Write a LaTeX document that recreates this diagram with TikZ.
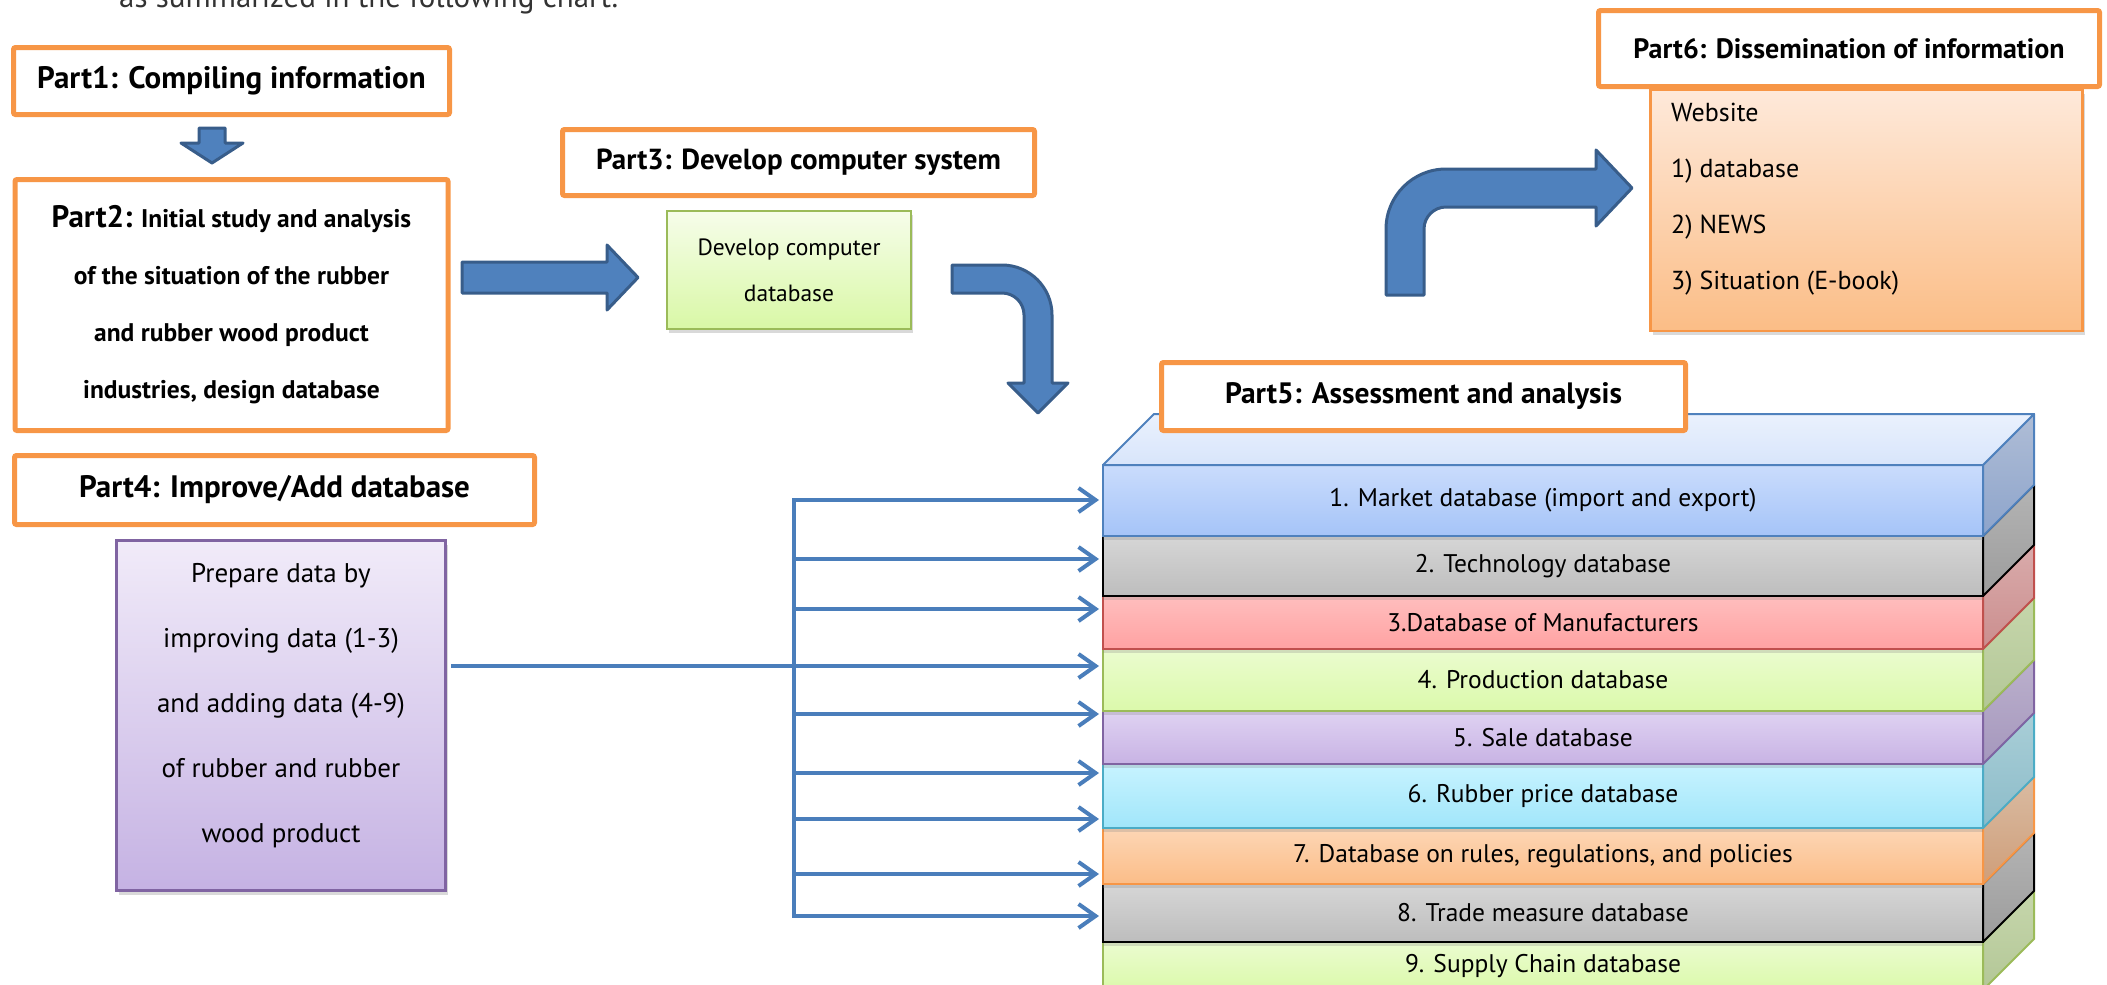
\documentclass[tikz,border=0pt]{standalone}
\usepackage{fontspec}
\setmainfont{PT Sans}
\usepackage{tikz}
\usetikzlibrary{positioning, arrows.meta, shadows}

\newcommand{\setfs}[2]{\fontsize{#1}{#2}\selectfont}

\definecolor{partorange}{HTML}{F79646}
\definecolor{arrowfill}{HTML}{4F81BD}
\definecolor{arrowline}{HTML}{385D8A}
\definecolor{feedblue}{HTML}{4A7EBB}
\definecolor{devtop}{HTML}{F6FDEA}
\definecolor{devbot}{HTML}{D9F8A6}
\definecolor{devline}{HTML}{9BBB59}
\definecolor{preptop}{HTML}{F1EBF9}
\definecolor{prepbot}{HTML}{C5B2E3}
\definecolor{prepline}{HTML}{8064A2}
\definecolor{webtop}{HTML}{FEE9DA}
\definecolor{webbot}{HTML}{FBBD86}
% stack layers: front top/bottom, side top/bottom, border
\definecolor{dbtop1}{HTML}{CADCFC}\definecolor{dbbot1}{HTML}{A5C4F8}
\definecolor{dbsa1}{HTML}{AFBDD6}\definecolor{dbsb1}{HTML}{8DA4CB}
\definecolor{dbline1}{HTML}{4F81BD}
\definecolor{dbtop2}{HTML}{D6D6D6}\definecolor{dbbot2}{HTML}{BDBDBD}
\definecolor{dbsa2}{HTML}{B4B4B4}\definecolor{dbsb2}{HTML}{9C9C9C}
\definecolor{dbline2}{HTML}{000000}
\definecolor{dbtop3}{HTML}{FFBEBE}\definecolor{dbbot3}{HTML}{FFA2A2}
\definecolor{dbsa3}{HTML}{D9ABAB}\definecolor{dbsb3}{HTML}{CB8E8E}
\definecolor{dbline3}{HTML}{C0504D}
\definecolor{dbtop4}{HTML}{EBFCCF}\definecolor{dbbot4}{HTML}{DBF9AB}
\definecolor{dbsa4}{HTML}{C6D6AB}\definecolor{dbsb4}{HTML}{B3C797}
\definecolor{dbline4}{HTML}{9BBB59}
\definecolor{dbtop5}{HTML}{DFD2F2}\definecolor{dbbot5}{HTML}{C8B3E4}
\definecolor{dbsa5}{HTML}{BBB0CC}\definecolor{dbsb5}{HTML}{A597BD}
\definecolor{dbline5}{HTML}{8064A2}
\definecolor{dbtop6}{HTML}{C7F3FF}\definecolor{dbbot6}{HTML}{A1E6FA}
\definecolor{dbsa6}{HTML}{A9CED7}\definecolor{dbsb6}{HTML}{8CBCC9}
\definecolor{dbline6}{HTML}{4BACC6}
\definecolor{dbtop7}{HTML}{FDD6B5}\definecolor{dbbot7}{HTML}{FBBD88}
\definecolor{dbsa7}{HTML}{D9BBA2}\definecolor{dbsb7}{HTML}{CF9E79}
\definecolor{dbline7}{HTML}{F79646}
\colorlet{dbtop8}{dbtop2}\colorlet{dbbot8}{dbbot2}
\colorlet{dbsa8}{dbsa2}\colorlet{dbsb8}{dbsb2}\colorlet{dbline8}{dbline2}
\colorlet{dbtop9}{dbtop4}\colorlet{dbbot9}{dbbot4}
\colorlet{dbsa9}{dbsa4}\colorlet{dbsb9}{dbsb4}\colorlet{dbline9}{dbline4}
\definecolor{capa}{HTML}{EAF1FD}
\definecolor{capb}{HTML}{D8E5FB}

\tikzset{
  partbox/.style={draw=partorange, line width=5pt, fill=white, rounded corners=2pt,
    inner sep=0pt, align=center, font=\setfs{31}{37}\bfseries},
  softshadow/.style={drop shadow={shadow xshift=2pt, shadow yshift=-4pt, opacity=.3}},
  devbox/.style={draw=devline, line width=2pt, top color=devtop, bottom color=devbot,
    minimum width=244pt, minimum height=118pt, inner sep=0pt, align=center,
    font=\setfs{23.5}{46}, softshadow},
  prepbox/.style={draw=prepline, line width=2.5pt, top color=preptop, bottom color=prepbot,
    minimum width=329pt, minimum height=350pt, inner sep=0pt, softshadow},
  webbox/.style={draw=partorange, line width=2.5pt, top color=webtop, bottom color=webbot,
    minimum width=432pt, minimum height=241pt, inner sep=0pt, softshadow},
  dblayer/.style={line width=2pt, minimum width=880pt, inner sep=0pt, outer sep=0pt,
    font=\setfs{25.5}{30},
    drop shadow={shadow xshift=0pt, shadow yshift=-4pt, opacity=.25}},
  blockarrow/.style={fill=arrowfill, draw=arrowline, line width=3pt, line join=round},
  feed/.style={draw=feedblue, line width=4pt},
  feedtip/.style={feed, -{Straight Barb[length=17pt, width=24pt]}}
}

\begin{document}
\begin{tikzpicture}[x=1pt, y=-1pt]
\path[use as bounding box, clip] (0,0) rectangle (2107,985);

\node[anchor=base west, inner sep=0pt, font=\setfs{31}{36}, text=black!80] (lead)
  at (119,7) {as summarized in the following chart.};

% left column
\node[partbox, minimum width=436pt, minimum height=67pt] (part1) at (231.5,81)
  {Part1: Compiling information};
\node[partbox, minimum width=433pt, minimum height=251pt, below=60pt of part1,
  font=\setfs{25.5}{57}\bfseries] (part2)
  {{\setfs{31}{57}Part2:} Initial study and analysis\\
   of the situation of the rubber\\
   and rubber wood product\\
   industries, design database};
\node[partbox, minimum width=520pt, minimum height=69pt] (part4) at (274.5,490)
  {Part4: Improve/Add database};
\node[prepbox] (prep) at (281,715.5) {};
\node[align=center, font=\setfs{27}{65}] (preptext) at (prep.center |- 0,706)
  {Prepare data by\\improving data (1-3)\\and adding data (4-9)\\of rubber and rubber\\wood product};

% middle
\node[partbox, minimum width=472pt, minimum height=66pt, font=\setfs{29}{35}\bfseries]
  (part3) at (798.5,162.5) {Part3: Develop computer system};
\node[devbox] (dev) at (789,270) {Develop computer\\database};

% block arrows
\path[blockarrow] (199,128) -- (225,128) -- (225,143) -- (243,143) -- (212,163)
  -- (181,143) -- (199,143) -- cycle;
\path[blockarrow] (462,262) -- (607,262) -- (607,245) -- (638,277.5) -- (607,310)
  -- (607,293) -- (462,293) -- cycle;
\path[blockarrow] (952,265) -- (1002,265) .. controls (1029.6,265) and (1052,287.4) .. (1052,315)
  -- (1052,383) -- (1068,383) -- (1038,413) -- (1008,383) -- (1024,383) -- (1024,315)
  .. controls (1024,302.8) and (1014.2,293) .. (1002,293) -- (952,293) -- cycle;
\path[blockarrow] (1386,295) -- (1386,229) .. controls (1386,195.9) and (1412.9,169) .. (1446,169)
  -- (1596,169) -- (1596,150) -- (1632,188) -- (1596,226) -- (1596,207) -- (1446,207)
  .. controls (1433.9,207) and (1424,216.9) .. (1424,229) -- (1424,295) -- cycle;

% database stack
\foreach \i/\ytop/\ybot/\txt in {
  9/942/990/{9. Supply Chain database},
  8/884/942/{8. Trade measure database},
  7/828/884/{7. Database on rules, regulations, and policies},
  6/764/828/{6. Rubber price database},
  5/711/764/{5. Sale database},
  4/649/711/{4. Production database},
  3/596/649/{3.Database of Manufacturers},
  2/536/596/{2. Technology database},
  1/465/536/{1. Market database (import and export)}}
{
  \node[dblayer, draw=dbline\i, top color=dbtop\i, bottom color=dbbot\i,
    minimum height={\ybot-\ytop}] (db\i) at (1543,{(\ytop+\ybot)/2}) {\txt};
  \draw[dbline\i, line width=2pt, line join=round, top color=dbsa\i, bottom color=dbsb\i]
    (db\i.north east) -- ++(51,-51) -- ++(0,{\ybot-\ytop}) -- (db\i.south east) -- cycle;
}
\draw[dbline1, line width=2pt, line join=round, top color=capa, bottom color=capb]
  (db1.north west) -- ++(51,-51) -- ++(880,0) -- (db1.north east) -- cycle;
\node[partbox, minimum width=524pt, minimum height=68pt, font=\setfs{29.5}{35}\bfseries]
  (part5) at (1423.5,396.5) {Part5: Assessment and analysis};

% feeds into the stack
\foreach \i/\y in {1/500,2/559,3/609,4/666,5/714,6/773,7/819,8/874,9/916}
  \coordinate (in\i) at (1099,\y);
\coordinate (bustop) at (794,500);
\coordinate (busbot) at (794,916);
\draw[feed, line cap=rect] (bustop) -- (busbot);
\foreach \i in {1,2,3,5,6,7,8,9}
  \draw[feedtip] (bustop |- in\i) -- (in\i);
\draw[feedtip] (prep.east |- in4) ++(4,0) -- (in4);

% right column
\node[webbox] (web) at (1866.5,210.5) {};
\node[anchor=west, align=left, inner sep=0pt, font=\setfs{26}{56}] (weblist) at (1671,199)
  {Website\\1) database\\2) NEWS\\3) Situation (E-book)};
\node[partbox, minimum width=501pt, minimum height=76pt, font=\setfs{28}{33}\bfseries]
  (part6) at (1849,48.5) {Part6: Dissemination of information};
\end{tikzpicture}
\end{document}
